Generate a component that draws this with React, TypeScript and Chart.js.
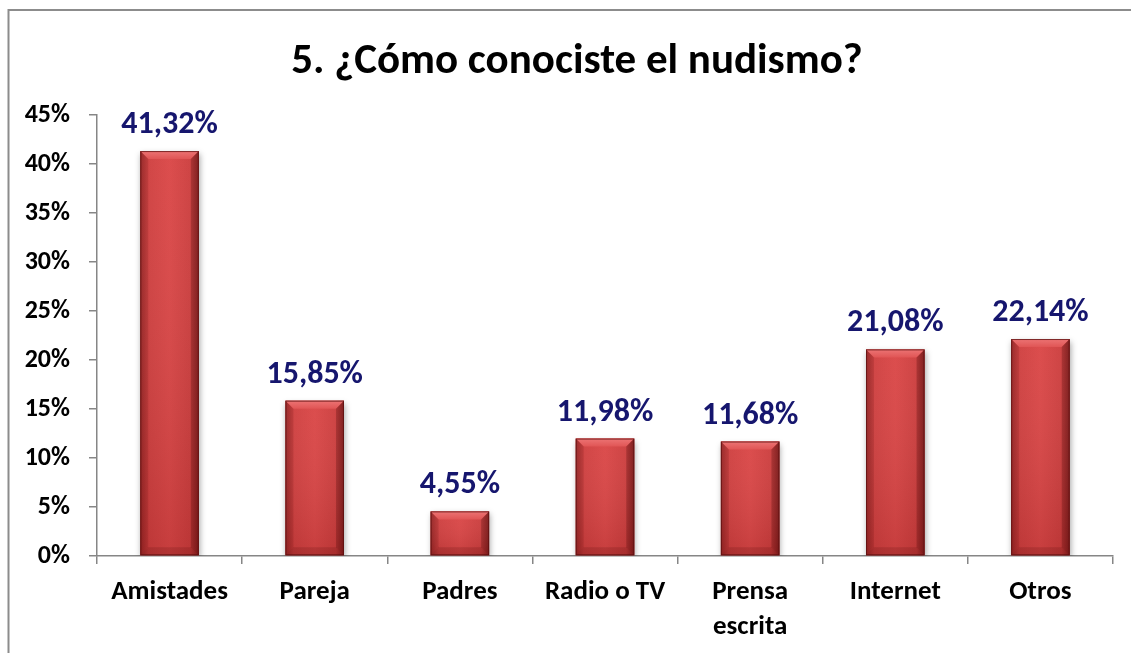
import React, { useEffect, useRef } from "react";
import { Chart, registerables } from "chart.js";

Chart.register(...registerables);

const TITLE = "5. ¿Cómo conociste el nudismo?";
const categories: (string | string[])[] = [
  "Amistades",
  "Pareja",
  "Padres",
  "Radio o TV",
  ["Prensa", "escrita"],
  "Internet",
  "Otros",
];
const values: number[] = [41.32, 15.85, 4.55, 11.98, 11.68, 21.08, 22.14];
const yMax = 45;
const yStep = 5;

const FONT = "Carlito, Lato, 'Open Sans', sans-serif";

const fmt = (v: number) => v.toFixed(2).replace(".", ",") + "%";

const frameTitlePlugin = {
  id: "frameTitle",
  beforeDraw(chart: any) {
    const ctx = chart.ctx;
    ctx.save();
    ctx.fillStyle = "#ffffff";
    ctx.fillRect(0, 0, chart.width, chart.height);
    ctx.strokeStyle = "#8c8c8c";
    ctx.lineWidth = 2;
    ctx.beginPath();
    ctx.moveTo(8.5, chart.height + 2);
    ctx.lineTo(8.5, 10);
    ctx.lineTo(chart.width + 2, 10);
    ctx.stroke();
    ctx.fillStyle = "#000000";
    ctx.font = `bold 43px ${FONT}`;
    ctx.textAlign = "center";
    ctx.textBaseline = "middle";
    ctx.fillText(TITLE, 577, 62);
    ctx.restore();
  },
};

const barStylePlugin = {
  id: "barStyle",
  beforeDatasetsDraw(chart: any) {
    const ctx = chart.ctx;
    ctx.save();
    ctx.shadowColor = "rgba(0,0,0,0.35)";
    ctx.shadowBlur = 6;
    ctx.shadowOffsetX = 1;
    ctx.shadowOffsetY = 3;
  },
  afterDatasetsDraw(chart: any) {
    const ctx = chart.ctx;
    ctx.restore();
    const meta = chart.getDatasetMeta(0);
    ctx.save();
    meta.data.forEach((el: any, i: number) => {
      const { x, y, base, width } = el.getProps(["x", "y", "base", "width"], true);
      const l = x - width / 2;
      const r = x + width / 2;
      const t = y;
      const b = base;
      const bv = Math.min(8, (b - t) / 2);
      const g = ctx.createLinearGradient(l, 0, r, 0);
      g.addColorStop(0, "#a02a2a");
      g.addColorStop(0.14, "#cf3f3f");
      g.addColorStop(0.5, "#da4646");
      g.addColorStop(0.86, "#cc3d3d");
      g.addColorStop(1, "#902222");
      ctx.fillStyle = g;
      ctx.fillRect(l, t, width, b - t);
      const gv = ctx.createLinearGradient(0, t, 0, b);
      gv.addColorStop(0, "rgba(255,255,255,0.04)");
      gv.addColorStop(1, "rgba(60,0,0,0.12)");
      ctx.fillStyle = gv;
      ctx.fillRect(l, t, width, b - t);
      // top bevel
      ctx.beginPath();
      ctx.moveTo(l, t);
      ctx.lineTo(r, t);
      ctx.lineTo(r - bv, t + bv);
      ctx.lineTo(l + bv, t + bv);
      ctx.closePath();
      const gt = ctx.createLinearGradient(0, t, 0, t + bv);
      gt.addColorStop(0, "#ec7474");
      gt.addColorStop(1, "#e05555");
      ctx.fillStyle = gt;
      ctx.fill();
      // left bevel
      ctx.beginPath();
      ctx.moveTo(l, t);
      ctx.lineTo(l + bv, t + bv);
      ctx.lineTo(l + bv, b - bv);
      ctx.lineTo(l, b);
      ctx.closePath();
      ctx.fillStyle = "rgba(80,0,0,0.12)";
      ctx.fill();
      // right bevel
      ctx.beginPath();
      ctx.moveTo(r, t);
      ctx.lineTo(r - bv, t + bv);
      ctx.lineTo(r - bv, b - bv);
      ctx.lineTo(r, b);
      ctx.closePath();
      ctx.fillStyle = "rgba(60,0,0,0.22)";
      ctx.fill();
      // bottom bevel
      ctx.beginPath();
      ctx.moveTo(l, b);
      ctx.lineTo(l + bv, b - bv);
      ctx.lineTo(r - bv, b - bv);
      ctx.lineTo(r, b);
      ctx.closePath();
      ctx.fillStyle = "rgba(60,0,0,0.15)";
      ctx.fill();
      ctx.strokeStyle = "rgba(90,15,15,0.75)";
      ctx.lineWidth = 1;
      ctx.strokeRect(l + 0.5, t + 0.5, width - 1, b - t - 1);
      // value label
      ctx.fillStyle = "#16166e";
      ctx.font = `bold 32px ${FONT}`;
      ctx.textAlign = "center";
      ctx.textBaseline = "middle";
      ctx.fillText(fmt(values[i]), x, t - 26);
    });
    ctx.restore();
  },
};

export default function App() {
  const ref = useRef<HTMLCanvasElement | null>(null);
  useEffect(() => {
    if (!ref.current) return;
    const chart = new Chart(ref.current, {
      type: "bar",
      data: {
        labels: categories,
        datasets: [
          {
            data: values,
            backgroundColor: "#c83b3b",
            borderWidth: 0,
            barPercentage: 0.8,
            categoryPercentage: 0.504,
          },
        ],
      },
      options: {
        animation: false,
        responsive: false,
        maintainAspectRatio: false,
        layout: { padding: { top: 115, left: 0, right: 18, bottom: 0 } },
        plugins: {
          legend: { display: false },
          title: { display: false },
          tooltip: { enabled: false },
        },
        scales: {
          x: {
            grid: {
              display: true,
              drawOnChartArea: false,
              drawTicks: true,
              tickLength: 8,
              color: "#868686",
              lineWidth: 1.5,
              offset: true,
            },
            border: { display: true, color: "#868686", width: 1.5 },
            ticks: {
              color: "#000000",
              font: { family: FONT, size: 27, weight: "bold", lineHeight: 1.3 },
              padding: 11,
              maxRotation: 0,
              autoSkip: false,
            },
            afterFit: (s: any) => {
              s.height = 97;
            },
          },
          y: {
            min: 0,
            max: yMax,
            grid: {
              display: true,
              drawOnChartArea: false,
              drawTicks: true,
              tickLength: 8,
              color: "#868686",
              lineWidth: 1.5,
            },
            border: { display: true, color: "#868686", width: 1.5 },
            ticks: {
              stepSize: yStep,
              color: "#000000",
              font: { family: FONT, size: 26, weight: "bold" },
              padding: 19,
              callback: (v: any) => `${v}%`,
            },
            afterFit: (s: any) => {
              s.width = 97;
            },
          },
        },
      },
      plugins: [frameTitlePlugin, barStylePlugin],
    });
    return () => chart.destroy();
  }, []);
  return (
    <div style={{ position: "fixed", left: 0, top: 0, width: 1131, height: 653, overflow: "hidden", background: "#fff" }}>
      <canvas ref={ref} width={1131} height={653} style={{ display: "block", width: 1131, height: 653 }} />
    </div>
  );
}
